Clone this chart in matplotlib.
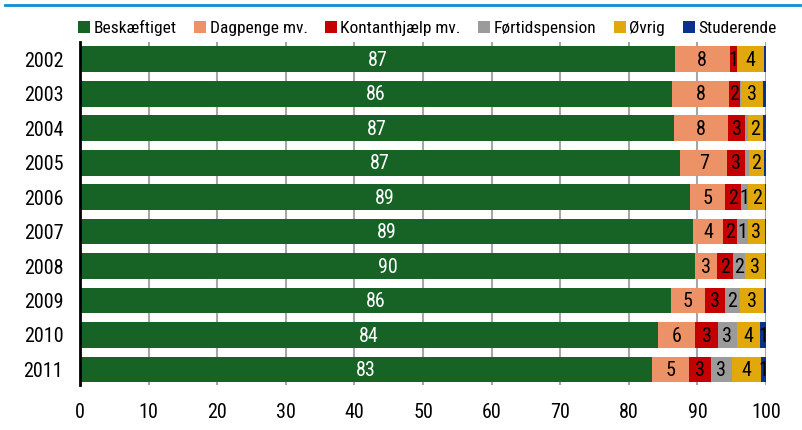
import matplotlib.pyplot as plt
from matplotlib.lines import Line2D
from matplotlib.patches import Patch
import numpy as np

plt.rcParams['font.family'] = ['Roboto Condensed', 'Liberation Sans', 'DejaVu Sans']

years = ['2002', '2003', '2004', '2005', '2006', '2007', '2008', '2009', '2010', '2011']
categories = ['Beskæftiget', 'Dagpenge mv.', 'Kontanthjælp mv.', 'Førtidspension', 'Øvrig', 'Studerende']
colors = ['#176325', '#ec9266', '#c40000', '#9b9b9b', '#e1a80c', '#0a318b']

# segment widths (percent)
beskaeftiget = [86.7, 86.3, 86.6, 87.5, 88.9, 89.4, 89.7, 86.1, 84.2, 83.4]
dagpenge     = [8.0, 8.3, 7.9, 6.8, 5.1, 4.3, 3.1, 5.0, 5.5, 5.3]
kontant      = [1.0, 1.6, 2.5, 2.7, 2.4, 2.1, 2.4, 2.9, 3.3, 3.2]
foertid      = [0.1, 0.2, 0.3, 0.5, 1.0, 1.5, 1.7, 2.2, 2.7, 3.1]
oevrig       = [3.9, 3.2, 2.3, 2.2, 2.45, 2.5, 3.0, 3.5, 3.4, 4.2]
studerende   = [0.3, 0.4, 0.4, 0.3, 0.15, 0.2, 0.1, 0.3, 0.9, 0.8]

# printed labels ('' = not shown)
lab_besk    = ['87', '86', '87', '87', '89', '89', '90', '86', '84', '83']
lab_dag     = ['8', '8', '8', '7', '5', '4', '3', '5', '6', '5']
lab_kont    = ['1', '2', '3', '3', '2', '2', '2', '3', '3', '3']
lab_foer    = ['', '', '', '', '1', '1', '2', '2', '3', '3']
lab_oev     = ['4', '3', '2', '2', '2', '3', '3', '3', '4', '4']
lab_stud    = ['', '', '', '', '', '', '', '', '1', '1']

series = [beskaeftiget, dagpenge, kontant, foertid, oevrig, studerende]
labels = [lab_besk, lab_dag, lab_kont, lab_foer, lab_oev, lab_stud]

fig = plt.figure(figsize=(8.02, 4.30), dpi=100)
ax = fig.add_axes([0.0998, 0.1047, 0.8554, 0.7977])

y = np.arange(len(years))
left = np.zeros(len(years))
for i, vals in enumerate(series):
    vals = np.array(vals)
    ax.barh(y, vals, left=left, height=0.75, color=colors[i], zorder=2)
    for j in range(len(years)):
        if labels[i][j]:
            ax.text(left[j] + vals[j] / 2, y[j] + 0.03, labels[i][j],
                    ha='center', va='center', fontsize=14.5,
                    color='white' if i == 0 else 'black', zorder=3)
    left += vals

ax.set_xlim(0, 100)
ax.set_ylim(9.45, -0.5)
ax.set_yticks(y)
ax.set_yticklabels(years, fontsize=14.5)
ax.set_xticks(range(0, 101, 10))
ax.tick_params(axis='x', labelsize=14.5, length=0, pad=13)
ax.tick_params(axis='y', length=0, pad=12)
ax.grid(axis='x', color='#a6a6a6', linewidth=1.5, zorder=0)
ax.set_axisbelow(True)
for s in ['top', 'right', 'bottom']:
    ax.spines[s].set_visible(False)
ax.spines['left'].set_linewidth(2)
ax.spines['left'].set_zorder(4)

handles = [Patch(facecolor=c, edgecolor='none') for c in colors]
ax.legend(handles, categories, ncol=6, loc='center', bbox_to_anchor=(0.506, 1.04),
          frameon=False, fontsize=12.5, handlelength=0.7, handleheight=0.7,
          handletextpad=0.2, columnspacing=1.0, borderaxespad=0)

fig.add_artist(Line2D([5 / 802, 800 / 802], [1 - 5 / 430, 1 - 5 / 430],
                      color='#0a8fd0', linewidth=2, transform=fig.transFigure))

fig.savefig('out.png', dpi=100)
